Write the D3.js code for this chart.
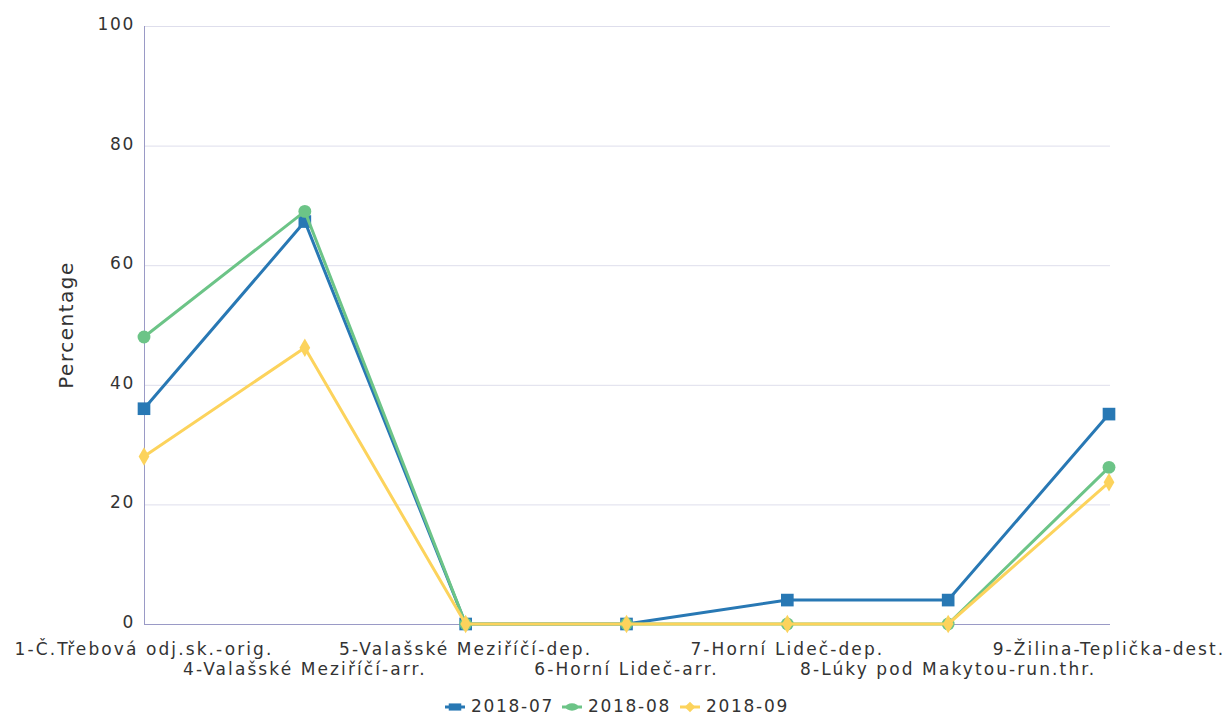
<!DOCTYPE html>
<html><head><meta charset="utf-8">
<script src="https://cdn.jsdelivr.net/npm/d3@7"></script>
<style>body{margin:0;background:#fff;}svg{display:block;font-family:"DejaVu Sans",sans-serif;}</style>
</head><body>
<svg id="c" width="1225" height="717"></svg>
<script>
const categories = ["1-Č.Třebová odj.sk.-orig.","4-Valašské Meziříčí-arr.","5-Valašské Meziříčí-dep.","6-Horní Lideč-arr.","7-Horní Lideč-dep.","8-Lúky pod Makytou-run.thr.","9-Žilina-Teplička-dest."];
const seriesNames = ["2018-07","2018-08","2018-09"];
const s201807 = [36, 67.3, 0, 0, 4, 4, 35.1];
const s201808 = [48, 69, 0, 0, 0, 0, 26.2];
const s201809 = [28, 46.2, 0, 0, 0, 0, 23.7];
const yTicks = [0,20,40,60,80,100];
const colors = ["#2878b4","#6cc487","#fcd35c"];
const symbols = [d3.symbolSquare, d3.symbolCircle, d3.symbolDiamond];
const symSizes = [160, 130, 100];

const svg = d3.select("#c");
const L = 144, R = 1110, T = 26, B = 624;
const x = d3.scalePoint().domain(categories).range([L, 1109]).padding(0);
const y = d3.scaleLinear().domain([0,100]).range([B, T]);
const LS = "1.7px";

// grid
svg.append("g").selectAll("line").data(yTicks.filter(d=>d>0)).join("line")
  .attr("x1", L).attr("x2", R).attr("y1", d=>y(d)+0.5).attr("y2", d=>y(d)+0.5)
  .attr("stroke","#dedeec").attr("stroke-width",1);

// axes lines
svg.append("line").attr("x1",L+0.5).attr("x2",L+0.5).attr("y1",T).attr("y2",B+0.5).attr("stroke","#9a9ac6").attr("stroke-width",1);
svg.append("line").attr("x1",L).attr("x2",R).attr("y1",B+0.5).attr("y2",B+0.5).attr("stroke","#9a9ac6").attr("stroke-width",1);

// y tick labels
svg.append("g").selectAll("text").data(yTicks).join("text")
  .attr("x", L-9).attr("y", d=>y(d)+4).attr("text-anchor","end")
  .attr("font-size",17).attr("letter-spacing",LS).attr("fill","#333").text(d=>d);

// y title
svg.append("text").attr("transform","translate(73,"+((T+B)/2)+") rotate(-90)")
  .attr("text-anchor","middle").attr("font-size",20).attr("letter-spacing","1.5px").attr("fill","#333").text("Percentage");

// x labels
svg.append("g").selectAll("text").data(categories).join("text")
  .attr("x", d=>x(d)).attr("y",(d,i)=> i%2===0 ? 655 : 675).attr("text-anchor","middle")
  .attr("font-size",17).attr("letter-spacing","2.1px").attr("fill","#333").text(d=>d);

const allSeries = [s201807, s201808, s201809];
const line = d3.line().x((d,i)=>x(categories[i])).y(d=>y(d));
allSeries.forEach((s,k)=>{
  const g = svg.append("g");
  g.append("path").datum(s).attr("d", line).attr("fill","none")
    .attr("stroke", colors[k]).attr("stroke-width",3).attr("stroke-linejoin","round");
  g.selectAll("path.m").data(s).join("path").attr("class","m")
    .attr("transform",(d,i)=>`translate(${x(categories[i])},${y(d)})`)
    .attr("d", d3.symbol().type(symbols[k]).size(symSizes[k]))
    .attr("fill", colors[k]);
});

// legend
const legX = [445, 562, 680];
const lg = svg.append("g");
seriesNames.forEach((n,k)=>{
  const g = lg.append("g").attr("transform",`translate(${legX[k]},707)`);
  g.append("line").attr("x1",0).attr("x2",20).attr("y1",0).attr("y2",0).attr("stroke",colors[k]).attr("stroke-width",3);
  g.append("path").attr("transform","translate(10,0) scale(1.4,0.8)").attr("d",d3.symbol().type(symbols[k]).size(symSizes[k]*0.5)).attr("fill",colors[k]);
  g.append("text").attr("x",26).attr("y",5).attr("font-size",17).attr("letter-spacing",LS).attr("fill","#333").text(n);
});
</script>
</body></html>
